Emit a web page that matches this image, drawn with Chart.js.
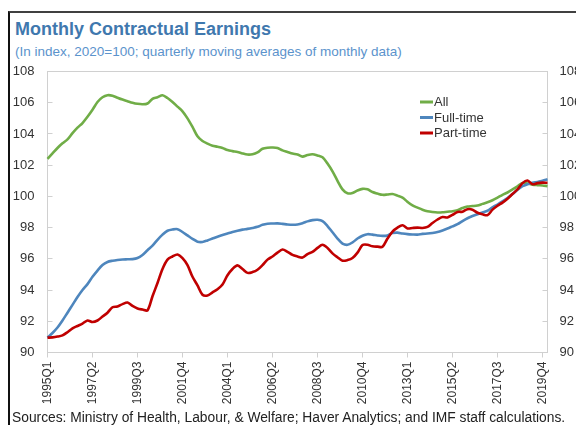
<!DOCTYPE html>
<html>
<head>
<meta charset="utf-8">
<script src="https://cdn.jsdelivr.net/npm/chart.js@4"></script>
<style>
  html, body { margin: 0; padding: 0; overflow: hidden; background: #fff; }
  body { width: 576px; height: 425px; position: relative; font-family: "Liberation Sans", Arial, sans-serif; }
  #frame { position: absolute; left: 8px; top: 11px; width: 580px; height: 430px; border-top: 2px solid #404040; border-left: 2px solid #111; }
  #title { position: absolute; left: 15px; top: 19px; font-size: 18px; font-weight: bold; color: #3f78ae; white-space: nowrap; }
  #subtitle { position: absolute; left: 15px; top: 44px; font-size: 13.5px; color: #5b93cc; white-space: nowrap; }
  #source { position: absolute; left: 12px; top: 410px; font-size: 13.8px; color: #222; white-space: nowrap; }
  canvas { position: absolute; left: 0; top: 0; }
</style>
</head>
<body>
<div id="frame"></div>
<div id="title">Monthly Contractual Earnings</div>
<div id="subtitle">(In index, 2020=100; quarterly moving averages of monthly data)</div>
<canvas id="earningsChart" width="600" height="425"></canvas>
<div id="source">Sources: Ministry of Health, Labour, &amp; Welfare; Haver Analytics; and IMF staff calculations.</div>
<script>
// quarters 1995Q1 .. 2020Q1
const quarters = [];
for (let y = 1995; y <= 2020; y++) {
    for (let q = 1; q <= 4; q++) {
        if (quarters.length < 101) quarters.push(y + 'Q' + q);
    }
}

const allWorkers = [
    102.4, 102.75, 103.1, 103.4, 103.65, 104.05, 104.4, 104.7, 105.1, 105.55,
    106.05, 106.35, 106.48, 106.45, 106.32, 106.2, 106.1, 106.0, 105.93, 105.9,
    105.95, 106.25, 106.35, 106.48, 106.3, 106.05, 105.75, 105.45, 105.0, 104.45,
    103.85, 103.55, 103.38, 103.25, 103.18, 103.1, 102.97, 102.9, 102.85, 102.75,
    102.68, 102.7, 102.82, 103.05, 103.12, 103.13, 103.1, 102.95, 102.85, 102.75,
    102.68, 102.55, 102.65, 102.7, 102.62, 102.5, 102.1, 101.6, 101.0, 100.45,
    100.2, 100.22, 100.38, 100.48, 100.45, 100.28, 100.18, 100.1, 100.12, 100.15,
    100.05, 99.92, 99.65, 99.42, 99.28, 99.15, 99.05, 99.0, 98.97, 98.98,
    99.02, 99.05, 99.12, 99.25, 99.35, 99.38, 99.42, 99.52, 99.62, 99.75,
    99.92, 100.1, 100.25, 100.45, 100.65, 100.85, 100.83, 100.75, 100.72, 100.7,
    100.66
];

const fullTime = [
    90.95, 91.25, 91.6, 92.05, 92.55, 93.05, 93.55, 94.0, 94.38, 94.85,
    95.25, 95.6, 95.8, 95.88, 95.93, 95.96, 95.97, 95.98, 96.05, 96.25,
    96.55, 96.85, 97.22, 97.55, 97.8, 97.88, 97.9, 97.72, 97.5, 97.28,
    97.1, 97.08, 97.18, 97.3, 97.42, 97.52, 97.62, 97.72, 97.8, 97.87,
    97.92, 97.98, 98.05, 98.18, 98.25, 98.26, 98.27, 98.24, 98.2, 98.18,
    98.2, 98.28, 98.4, 98.48, 98.5, 98.42, 98.1, 97.7, 97.3, 96.98,
    96.9, 97.05, 97.3, 97.48, 97.58, 97.55, 97.5, 97.47, 97.5, 97.65,
    97.68, 97.62, 97.58, 97.56, 97.55, 97.6, 97.62, 97.66, 97.72, 97.82,
    97.94, 98.08, 98.22, 98.42, 98.6, 98.74, 98.86, 98.97, 99.08, 99.3,
    99.48, 99.68, 99.9, 100.15, 100.42, 100.65, 100.78, 100.88, 100.92, 101.0,
    101.09
];

const partTime = [
    90.95, 90.97, 91.02, 91.1, 91.3, 91.55, 91.7, 91.85, 92.05, 91.95,
    92.05, 92.3, 92.55, 92.9, 92.95, 93.1, 93.2, 92.98, 92.82, 92.75,
    92.7, 93.6, 94.45, 95.35, 95.95, 96.15, 96.28, 96.05, 95.6, 94.85,
    94.3, 93.7, 93.65, 93.85, 94.05, 94.35, 94.95, 95.35, 95.58, 95.35,
    95.1, 95.15, 95.3, 95.6, 95.95, 96.15, 96.4, 96.6, 96.45, 96.25,
    96.15, 96.08, 96.3, 96.45, 96.7, 96.9, 96.7, 96.35, 96.1, 95.88,
    95.92, 96.05, 96.4, 96.88, 96.9, 96.8, 96.78, 96.77, 97.3, 97.75,
    98.0, 98.15, 97.95, 97.98, 98.0, 97.98, 98.05, 98.3, 98.52, 98.68,
    98.65, 98.82, 99.0, 99.02, 99.18, 99.15, 98.95, 98.85, 98.8, 99.15,
    99.4, 99.6, 99.85, 100.15, 100.45, 100.85, 101.02, 100.78, 100.85, 100.88,
    100.87
];

const yMin = 90;
const yMax = 108;
const yStep = 2;
const labelEvery = 9;

const tickFont = { family: '"Liberation Sans", Arial, sans-serif', size: 13 };
const textColor = '#333333';
const lineGray = '#d0d0d0';

// light grey box around the plot area
const plotFrame = {
    id: 'plotFrame',
    beforeDatasetsDraw(chart) {
        const { ctx, chartArea: a } = chart;
        ctx.save();
        ctx.strokeStyle = lineGray;
        ctx.lineWidth = 1;
        ctx.strokeRect(a.left, a.top, a.right - a.left, a.bottom - a.top);
        ctx.restore();
    }
};

// legend inside the plot, top right
const innerLegend = {
    id: 'innerLegend',
    afterDatasetsDraw(chart) {
        const ctx = chart.ctx;
        ctx.save();
        ctx.font = '13px "Liberation Sans", Arial, sans-serif';
        ctx.textBaseline = 'middle';
        chart.data.datasets.forEach((ds, i) => {
            const y = 102 + i * 15.5;
            ctx.strokeStyle = ds.borderColor;
            ctx.lineWidth = 3;
            ctx.beginPath();
            ctx.moveTo(420, y);
            ctx.lineTo(433, y);
            ctx.stroke();
            ctx.fillStyle = textColor;
            ctx.fillText(ds.label, 434, y + 0.5);
        });
        ctx.restore();
    }
};

new Chart(document.getElementById('earningsChart'), {
    type: 'line',
    data: {
        labels: quarters,
        datasets: [{
            label: 'All',
            data: allWorkers,
            borderColor: '#70ad47',
            order: 2
        }, {
            label: 'Full-time',
            data: fullTime,
            borderColor: '#4e86bd',
            order: 1
        }, {
            label: 'Part-time',
            data: partTime,
            borderColor: '#c00000',
            order: 0
        }]
    },
    options: {
        responsive: false,
        animation: false,
        devicePixelRatio: 1,
        elements: {
            point: { radius: 0 },
            line: { borderWidth: 2.6, tension: 0.3 }
        },
        layout: { padding: { top: 71.5, left: 0, right: 0, bottom: 0 } },
        plugins: {
            legend: { display: false },
            tooltip: { enabled: false }
        },
        scales: {
            x: {
                offset: false,
                border: { display: false },
                grid: {
                    drawOnChartArea: false,
                    tickLength: 5,
                    tickColor: c => (c.index % labelEvery === 0 ? lineGray : 'rgba(0,0,0,0)')
                },
                ticks: {
                    autoSkip: false,
                    maxRotation: 90,
                    minRotation: 90,
                    padding: 4,
                    color: textColor,
                    font: { family: tickFont.family, size: 12 },
                    callback: function (value, index) {
                        return index % labelEvery === 0 ? this.getLabelForValue(value) : '';
                    }
                },
                afterFit: s => { s.height = 72.5; }
            },
            y: {
                position: 'left',
                min: yMin,
                max: yMax,
                border: { display: false },
                grid: { drawOnChartArea: false, tickLength: -5, tickColor: lineGray },
                ticks: { stepSize: yStep, padding: 18, color: textColor, font: tickFont },
                afterFit: s => { s.width = 47.5; }
            },
            y2: {
                position: 'right',
                min: yMin,
                max: yMax,
                border: { display: false },
                grid: { drawOnChartArea: false, tickLength: -5, tickColor: lineGray },
                ticks: { stepSize: yStep, padding: 17, color: textColor, font: tickFont },
                afterFit: s => { s.width = 52.5; }
            }
        }
    },
    plugins: [plotFrame, innerLegend]
});
</script>
</body>
</html>
